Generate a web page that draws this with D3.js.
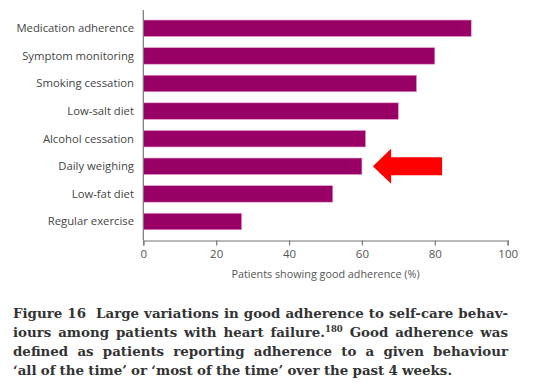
<!DOCTYPE html>
<html><head><meta charset="utf-8">
<script src="https://cdn.jsdelivr.net/npm/d3@7"></script>
<style>
html,body{margin:0;padding:0;background:#fff;}
svg{display:block;}
</style></head>
<body>
<svg id="chart" width="535" height="390"></svg>
<script>
const categories = ["Medication adherence","Symptom monitoring","Smoking cessation","Low-salt diet","Alcohol cessation","Daily weighing","Low-fat diet","Regular exercise"];
const values = [90,80,75,70,61,60,52,27];
const tickValues = [0,20,40,60,80,100];
const axisTitle = "Patients showing good adherence (%)";
const highlighted = "Daily weighing";
const arrowX = [63,68,82]; // tip, head base, tail (in % units)
const captionLines = [
  ["Figure", "16", "", "Large", "variations", "in", "good", "adherence", "to", "self-care", "behav-"],
  ["iours", "among", "patients", "with", "heart", "failure.^180", "Good", "adherence", "was"],
  ["defined", "as", "patients", "reporting", "adherence", "to", "a", "given", "behaviour"],
  ["‘all", "of", "the", "time’", "or", "‘most", "of", "the", "time’", "over", "the", "past", "4", "weeks."]
];

const svg = d3.select("#chart");
const x = d3.scaleLinear().domain([0,100]).range([143.3,507.7]);
const y = d3.scaleBand().domain(categories).range([14.5,235.3]).paddingInner(0.4).paddingOuter(0.2);
const axisY = 240.5;

// bars
svg.append("g").selectAll("rect").data(values).join("rect")
  .attr("x", x(0))
  .attr("y", (d,i)=>y(categories[i]))
  .attr("width", d=>x(d)-x(0))
  .attr("height", y.bandwidth())
  .attr("fill","#990066")
  .attr("stroke","#e6a6d2").attr("stroke-width",0.6);

// vertical axis line
svg.append("line").attr("x1",x(0)).attr("x2",x(0)).attr("y1",10).attr("y2",axisY)
  .attr("stroke","#777").attr("stroke-width",1.2);

// category labels
svg.append("g").selectAll("text").data(categories).join("text")
  .attr("x", 134).attr("y", d=>y(d)+y.bandwidth()/2)
  .attr("dy","0.35em").attr("text-anchor","end")
  .attr("font-family","Open Sans, sans-serif").attr("font-size","11.3px")
  .attr("fill","#444").text(d=>d);

// x axis
const xAxis = d3.axisBottom(x).tickValues(tickValues).tickSize(5).tickPadding(4);
const gx = svg.append("g").attr("transform",`translate(0,${axisY})`).call(xAxis);
gx.select(".domain").attr("stroke","#777").attr("stroke-width",1.2);
gx.selectAll(".tick line").attr("stroke","#777").attr("stroke-width",1.2);
gx.selectAll(".tick text").attr("font-family","Open Sans, sans-serif").attr("font-size","11.5px").attr("fill","#555");

svg.append("text").attr("x",(x(0)+x(100))/2).attr("y",274).attr("dy","0.35em")
  .attr("text-anchor","middle").attr("font-family","Open Sans, sans-serif").attr("font-size","10.8px")
  .attr("fill","#555").text(axisTitle);

// red arrow
const cy = y(highlighted)+y.bandwidth()/2;
const pts = [[x(arrowX[0]),cy],[x(arrowX[1]),cy-17.5],[x(arrowX[1]),cy-9],[x(arrowX[2]),cy-9],
             [x(arrowX[2]),cy+9],[x(arrowX[1]),cy+9],[x(arrowX[1]),cy+17.5]];
svg.append("polygon").attr("points",pts.map(p=>p.join(",")).join(" ")).attr("fill","#ff0000");

// caption (justified)
const capLeft = 13, capRight = 508, capTop = 313, lineH = 19;
captionLines.forEach((words,li)=>{
  const justify = li < captionLines.length-1;
  const ty = capTop + li*lineH;
  const gLine = svg.append("g");
  const nodes = words.map(w=>{
    const t = gLine.append("text").attr("y",ty).attr("dy","0.35em")
      .attr("font-family","DejaVu Serif, serif").attr("font-weight","bold")
      .attr("font-size","13.4px").attr("fill","#333");
    const [main, sup] = w.split("^");
    t.append("tspan").text(main);
    if (sup) t.append("tspan").text(sup).attr("font-size","8.5px").attr("dy","-0.6em");
    return t;
  });
  const widths = nodes.map(n=>n.node().getComputedTextLength());
  const total = d3.sum(widths);
  const gap = justify ? (capRight-capLeft-total)/(nodes.length-1) : 4.2;
  let cx = capLeft;
  nodes.forEach((n,i)=>{ n.attr("x",cx); cx += widths[i] + gap; });
});
</script>
</body></html>
